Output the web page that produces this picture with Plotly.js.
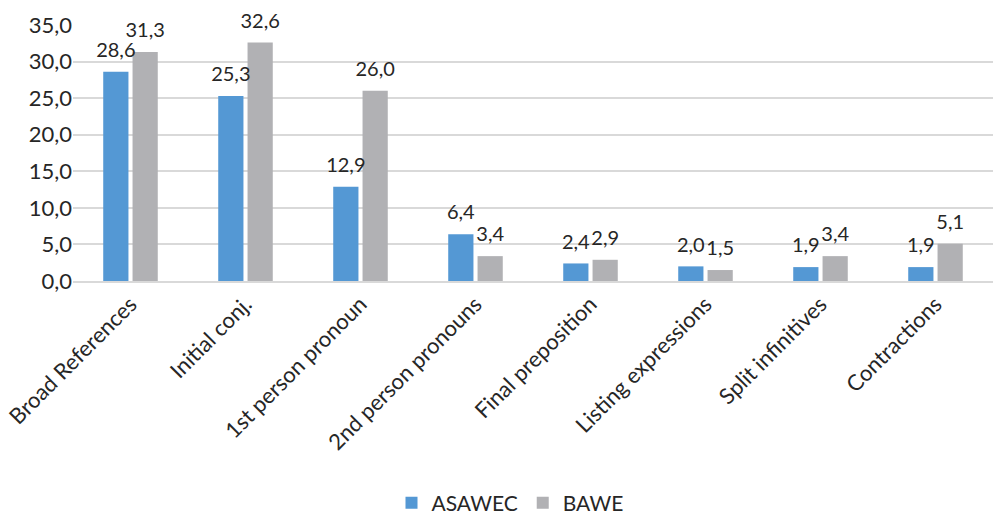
<!DOCTYPE html>
<html><head><meta charset="utf-8">
<script src="https://cdn.plot.ly/plotly-3.0.1.min.js"></script>
<style>body{margin:0;background:#fff}#c{width:995px;height:518px}</style>
</head><body><div id="c"></div>
<script>
const categories = ["Broad References","Initial conj.","1st person pronoun","2nd person pronouns","Final preposition","Listing expressions","Split infinitives","Contractions"];
const asawec = [28.6,25.3,12.9,6.4,2.4,2.0,1.9,1.9];
const bawe = [31.3,32.6,26.0,3.4,2.9,1.5,3.4,5.1];
const yTicks = [0,5,10,15,20,25,30,35];

const font = {family:"Lato, 'Open Sans', sans-serif", size:22, color:"#262626"};
const lblFont = {family:"Lato, 'Open Sans', sans-serif", size:20, color:"#262626"};
const legFont = {family:"Lato, 'Open Sans', sans-serif", size:21, color:"#262626"};
const bar = (name, y, color, g) => ({
  type:"bar", name, x:categories, y, offsetgroup:g,
  marker:{color}, hoverinfo:"skip"
});
const lbl = (y, g) => ({
  type:"scatter", mode:"markers+text", x:categories, y, offsetgroup:g,
  marker:{size:14, opacity:0}, showlegend:false, cliponaxis:false,
  texttemplate:"%{y:.1f}", textposition:"top center", textfont:lblFont, hoverinfo:"skip"
});
Plotly.newPlot("c",[
  bar("ASAWEC",asawec,"#5498d4","a"), bar("BAWE",bawe,"#b1b1b4","b"),
  lbl(asawec,"a"), lbl(bawe,"b")
],{
  width:995,height:518,
  margin:{l:73,r:2,t:25,b:237},
  separators:",.",
  font:font,
  barmode:"group", bargap:0.49, bargroupgap:0.14,
  scattermode:"group", scattergap:0.49,
  paper_bgcolor:"#fff", plot_bgcolor:"#fff",
  xaxis:{tickangle:-45, tickfont:font, showgrid:false, showline:true, linecolor:"#d9d9d9", linewidth:1.5, ticks:"", automargin:false},
  yaxis:{range:[0,35], tickvals:yTicks, tickformat:".1f", tickfont:font, gridcolor:"#d9d9d9", gridwidth:1.5, zeroline:false, showline:false, ticks:"", ticklen:0, automargin:false},
  showlegend:true,
  legend:{orientation:"h", x:0.475, xanchor:"center", yref:"container", y:0.029, yanchor:"middle", font:legFont, itemwidth:30},
}, {displayModeBar:false});
</script></body></html>
